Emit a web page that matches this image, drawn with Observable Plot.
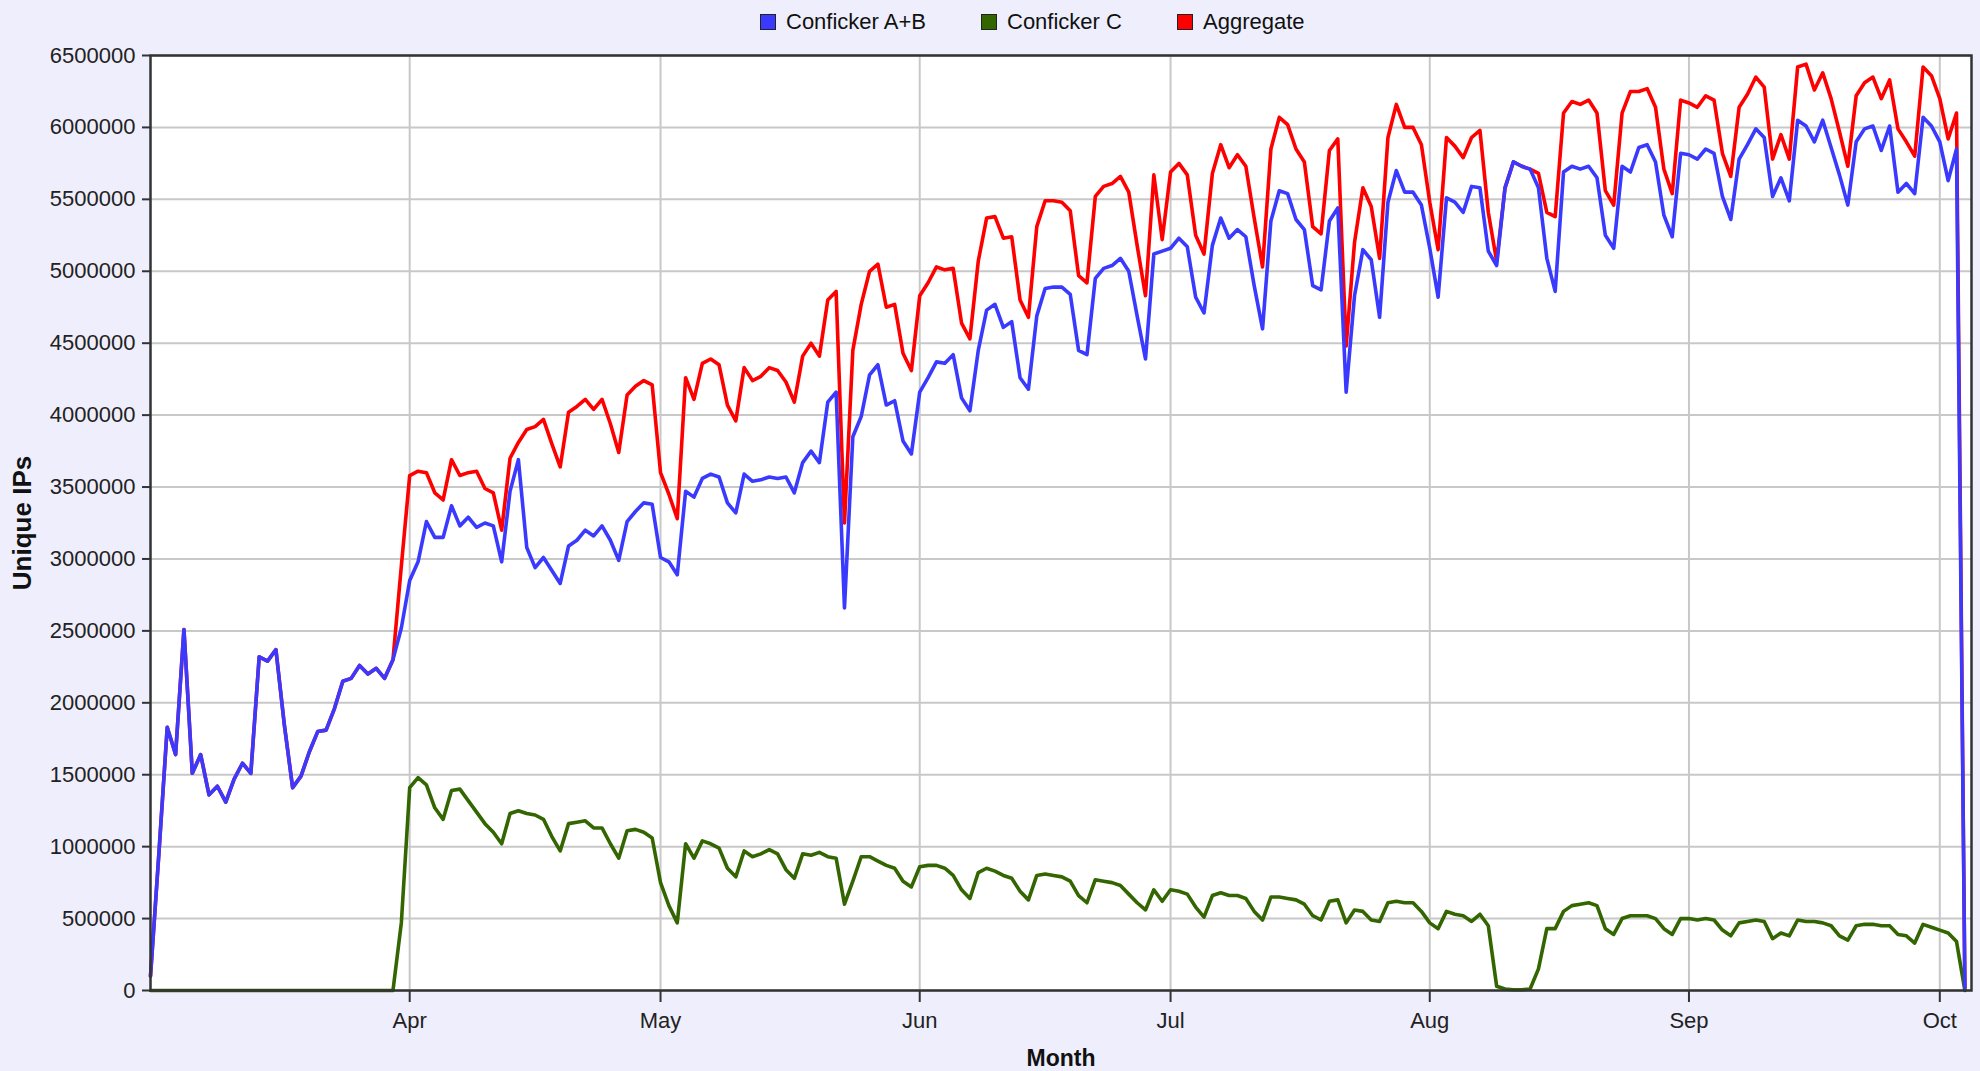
<!DOCTYPE html>
<html><head><meta charset="utf-8">
<script src="https://cdn.jsdelivr.net/npm/d3@7"></script>
<script src="https://cdn.jsdelivr.net/npm/@observablehq/plot@0.6"></script>
<style>
html,body{margin:0;padding:0;background:#eeeefc;}
body{width:1980px;height:1071px;position:relative;overflow:hidden;font-family:"Liberation Sans",Arial,sans-serif;}
#legend{position:absolute;left:0;top:0;width:1980px;height:40px;}
.item{position:absolute;top:11px;height:22px;display:flex;align-items:center;font-size:22px;color:#111;white-space:nowrap;}
.sw{width:14px;height:14px;border:1px solid #222;margin-right:10px;}
#chart{position:absolute;left:0;top:40px;}
</style></head>
<body>
<div id="legend"></div>
<div id="chart"></div>
<script>
// Daily series, starting 2009-03-01
const startDate = "2009-03-01";
const seriesNames = ["Conficker A+B", "Conficker C", "Aggregate"];
const seriesColors = ["#3a3aff", "#336600", "#ff0000"];
const monthTickLabels = ["Apr", "May", "Jun", "Jul", "Aug", "Sep", "Oct"];
const monthTickDates = ["2009-04-01","2009-05-01","2009-06-01","2009-07-01","2009-08-01","2009-09-01","2009-10-01"];
const yTickValues = [0,500000,1000000,1500000,2000000,2500000,3000000,3500000,4000000,4500000,5000000,5500000,6000000,6500000];

const confickerAB = [
100000,950000,1830000,1640000,2510000,1510000,1640000,1360000,1420000,1310000,
1470000,1580000,1510000,2320000,2290000,2370000,1850000,1410000,1490000,1660000,
1800000,1810000,1960000,2150000,2170000,2260000,2200000,2240000,2170000,2300000,
2520000,2850000,2980000,3260000,3150000,3150000,3370000,3230000,3290000,3220000,
3250000,3230000,2980000,3470000,3690000,3080000,2940000,3010000,2920000,2830000,
3090000,3130000,3200000,3160000,3230000,3130000,2990000,3260000,3330000,3390000,
3380000,3010000,2980000,2890000,3470000,3430000,3560000,3590000,3570000,3390000,
3320000,3590000,3540000,3550000,3570000,3560000,3570000,3460000,3670000,3750000,
3670000,4090000,4160000,2660000,3850000,3990000,4280000,4350000,4070000,4100000,
3820000,3730000,4160000,4260000,4370000,4360000,4420000,4120000,4030000,4450000,
4730000,4770000,4610000,4650000,4260000,4180000,4690000,4880000,4890000,4890000,
4840000,4450000,4420000,4950000,5020000,5040000,5090000,5000000,4690000,4390000,
5120000,5140000,5160000,5230000,5170000,4820000,4710000,5180000,5370000,5230000,
5290000,5240000,4900000,4600000,5350000,5560000,5540000,5360000,5290000,4900000,
4870000,5350000,5440000,4160000,4830000,5150000,5080000,4680000,5480000,5700000,
5550000,5550000,5460000,5160000,4820000,5510000,5480000,5410000,5590000,5580000,
5140000,5040000,5580000,5760000,5730000,5710000,5580000,5090000,4860000,5690000,
5730000,5710000,5730000,5650000,5250000,5160000,5730000,5690000,5860000,5880000,
5760000,5390000,5240000,5820000,5810000,5780000,5850000,5820000,5520000,5360000,
5780000,5880000,5990000,5930000,5520000,5650000,5490000,6050000,6010000,5900000,
6050000,5860000,5670000,5460000,5900000,5990000,6010000,5840000,6010000,5550000,
5610000,5540000,6070000,6010000,5900000,5630000,5850000,20000
];

const confickerC = [
0,0,0,0,0,0,0,0,0,0,
0,0,0,0,0,0,0,0,0,0,
0,0,0,0,0,0,0,0,0,0,
470000,1410000,1480000,1430000,1270000,1190000,1390000,1400000,1320000,1240000,
1160000,1100000,1020000,1230000,1250000,1230000,1220000,1190000,1070000,970000,
1160000,1170000,1180000,1130000,1130000,1020000,920000,1110000,1120000,1100000,
1060000,750000,590000,470000,1020000,920000,1040000,1020000,990000,850000,
790000,970000,930000,950000,980000,950000,840000,780000,950000,940000,
960000,930000,920000,600000,760000,930000,930000,900000,870000,850000,
760000,720000,860000,870000,870000,850000,800000,700000,640000,820000,
850000,830000,800000,780000,690000,630000,800000,810000,800000,790000,
760000,660000,610000,770000,760000,750000,730000,670000,610000,560000,
700000,620000,700000,690000,670000,580000,510000,660000,680000,660000,
660000,640000,550000,490000,650000,650000,640000,630000,600000,520000,
490000,620000,630000,470000,560000,550000,490000,480000,610000,620000,
610000,610000,550000,470000,430000,550000,530000,520000,480000,530000,
450000,30000,10000,5000,5000,10000,150000,430000,430000,550000,
590000,600000,610000,590000,430000,390000,500000,520000,520000,520000,
500000,430000,390000,500000,500000,490000,500000,490000,420000,380000,
470000,480000,490000,480000,360000,400000,380000,490000,480000,480000,
470000,450000,380000,350000,450000,460000,460000,450000,450000,390000,
380000,330000,460000,440000,420000,400000,340000,0
];

const aggregate = [
100000,950000,1830000,1640000,2510000,1510000,1640000,1360000,1420000,1310000,
1470000,1580000,1510000,2320000,2290000,2370000,1850000,1410000,1490000,1660000,
1800000,1810000,1960000,2150000,2170000,2260000,2200000,2240000,2170000,2300000,
2950000,3580000,3610000,3600000,3460000,3410000,3690000,3580000,3600000,3610000,
3490000,3460000,3200000,3700000,3810000,3900000,3920000,3970000,3800000,3640000,
4020000,4060000,4110000,4040000,4110000,3940000,3740000,4140000,4200000,4240000,
4210000,3600000,3450000,3280000,4260000,4110000,4360000,4390000,4350000,4070000,
3960000,4330000,4240000,4270000,4330000,4310000,4230000,4090000,4410000,4500000,
4410000,4800000,4860000,3250000,4450000,4770000,5000000,5050000,4750000,4770000,
4430000,4310000,4830000,4920000,5030000,5010000,5020000,4640000,4530000,5070000,
5370000,5380000,5230000,5240000,4800000,4680000,5310000,5490000,5490000,5480000,
5420000,4970000,4920000,5520000,5590000,5610000,5660000,5550000,5180000,4830000,
5670000,5220000,5690000,5750000,5670000,5250000,5120000,5680000,5880000,5720000,
5810000,5730000,5370000,5030000,5850000,6070000,6020000,5850000,5760000,5310000,
5260000,5840000,5920000,4480000,5200000,5580000,5450000,5090000,5930000,6160000,
6000000,6000000,5880000,5480000,5150000,5930000,5870000,5790000,5930000,5980000,
5410000,5070000,5580000,5760000,5730000,5710000,5680000,5410000,5380000,6100000,
6180000,6160000,6190000,6100000,5560000,5460000,6100000,6250000,6250000,6270000,
6140000,5710000,5540000,6190000,6170000,6140000,6220000,6190000,5820000,5660000,
6140000,6230000,6350000,6280000,5780000,5950000,5780000,6420000,6440000,6260000,
6380000,6200000,5970000,5730000,6220000,6310000,6350000,6200000,6330000,5990000,
5900000,5800000,6420000,6360000,6200000,5920000,6100000,20000
];

// legend
const legendX = [760, 981, 1177];
const legend = document.getElementById("legend");
seriesNames.forEach((name, i) => {
  const item = document.createElement("div");
  item.className = "item";
  item.style.left = legendX[i] + "px";
  item.innerHTML = `<span class="sw" style="background:${seriesColors[i]}"></span><span>${name}</span>`;
  legend.appendChild(item);
});

const start = d3.utcParse("%Y-%m-%d")(startDate);
const dates = confickerAB.map((_, i) => d3.utcDay.offset(start, i));
const monthTicks = monthTickDates.map(d3.utcParse("%Y-%m-%d"));
const rowsAB = confickerAB.map((v, i) => ({date: dates[i], value: v}));
const rowsC = confickerC.map((v, i) => ({date: dates[i], value: v}));
const rowsAgg = aggregate.map((v, i) => ({date: dates[i], value: v}));
const labelFor = new Map(monthTicks.map((d, i) => [+d, monthTickLabels[i]]));

const chart = Plot.plot({
  width: 1980,
  height: 1031,
  marginTop: 15,
  marginBottom: 81,
  marginLeft: 150,
  marginRight: 9,
  style: {background: "transparent", fontFamily: "'Liberation Sans', Arial, sans-serif", fontSize: "22px", color: "#222"},
  x: {type: "utc", domain: [start, new Date(Date.UTC(2009, 9, 4, 19))]},
  y: {domain: [0, 6500000]},
  marks: [
    Plot.frame({fill: "white", stroke: "none"}),
    Plot.gridY(yTickValues, {stroke: "#c8c8c8", strokeOpacity: 1, strokeWidth: 2}),
    Plot.gridX(monthTicks, {stroke: "#c8c8c8", strokeOpacity: 1, strokeWidth: 2}),
    Plot.line(rowsAgg, {x: "date", y: "value", stroke: seriesColors[2], strokeWidth: 3.6}),
    Plot.line(rowsC, {x: "date", y: "value", stroke: seriesColors[1], strokeWidth: 3.6}),
    Plot.line(rowsAB, {x: "date", y: "value", stroke: seriesColors[0], strokeWidth: 3.6}),
    Plot.frame({stroke: "#333", strokeWidth: 2.5}),
    Plot.axisY(yTickValues, {tickFormat: d3.format("d"), tickSize: 8, tickPadding: 7, label: null, stroke: "#333", strokeWidth: 2, fontSize: 22}),
    Plot.axisX(monthTicks, {tickFormat: d => labelFor.get(+d), tickSize: 12, tickPadding: 10, label: null, stroke: "#333", strokeWidth: 2, fontSize: 22}),
    Plot.text(["Month"], {text: d => d, frameAnchor: "bottom", dy: 68, lineAnchor: "middle", textAnchor: "middle", fontWeight: "bold", fontSize: 23, fill: "#111"}),
    Plot.text(["Unique IPs"], {text: d => d, frameAnchor: "left", dx: -128, rotate: -90, textAnchor: "middle", lineAnchor: "middle", fontWeight: "bold", fontSize: 26, fill: "#111"})
  ]
});
document.getElementById("chart").appendChild(chart);
</script>
</body></html>
